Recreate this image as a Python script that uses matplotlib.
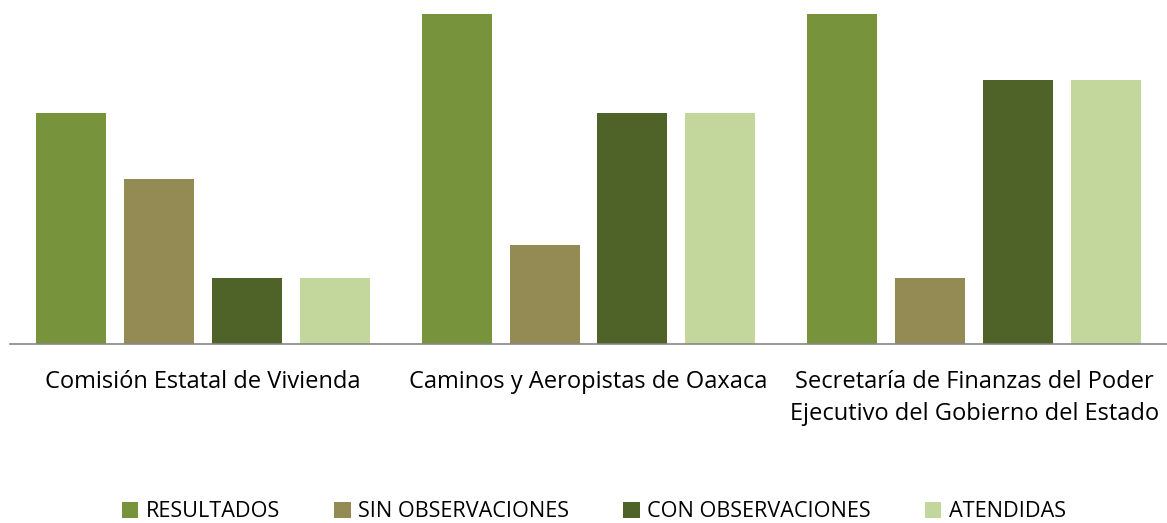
import numpy as np
import matplotlib
matplotlib.use('Agg')
import matplotlib.pyplot as plt

plt.rcParams['font.family'] = ['Open Sans', 'DejaVu Sans']

categories = ['Comisión Estatal de Vivienda',
              'Caminos y Aeropistas de Oaxaca',
              'Secretaría de Finanzas del Poder\nEjecutivo del Gobierno del Estado']
series_names = ['RESULTADOS', 'SIN OBSERVACIONES', 'CON OBSERVACIONES', 'ATENDIDAS']
resultados = [7, 10, 10]
sin_obs = [5, 3, 2]
con_obs = [2, 7, 8]
atendidas = [2, 7, 8]
colors = ['#77933C', '#948A54', '#4F6228', '#C3D69B']

fig = plt.figure(figsize=(11.67, 5.23), dpi=100)
ax = fig.add_axes([10 / 1167, 1 - 344 / 523, 1 - 10 / 1167, 330 / 523])

x = np.arange(len(categories))
width = 70 / 385.7
step = 88 / 385.7
all_series = [resultados, sin_obs, con_obs, atendidas]
for i, (vals, name, c) in enumerate(zip(all_series, series_names, colors)):
    ax.bar(x + (i - 1.5) * step, vals, width, color=c, label=name)

ax.set_xlim(-0.5, 2.5)
ax.set_ylim(0, 10)
ax.set_xticks(x)
ax.set_xticklabels(categories, fontsize=17, color='#000000', linespacing=1.45)
ax.tick_params(axis='x', length=0, pad=19)
ax.set_yticks([])
for s in ['top', 'right', 'left']:
    ax.spines[s].set_visible(False)
ax.spines['bottom'].set_color('#868686')
ax.spines['bottom'].set_linewidth(1.2)

fig.legend(loc='lower center', bbox_to_anchor=(0.509, -0.036), ncol=4, frameon=False,
           fontsize=15.6, handlelength=0.75, handleheight=0.75, handletextpad=0.35,
           columnspacing=2.5)

fig.savefig('out.png', dpi=100)
